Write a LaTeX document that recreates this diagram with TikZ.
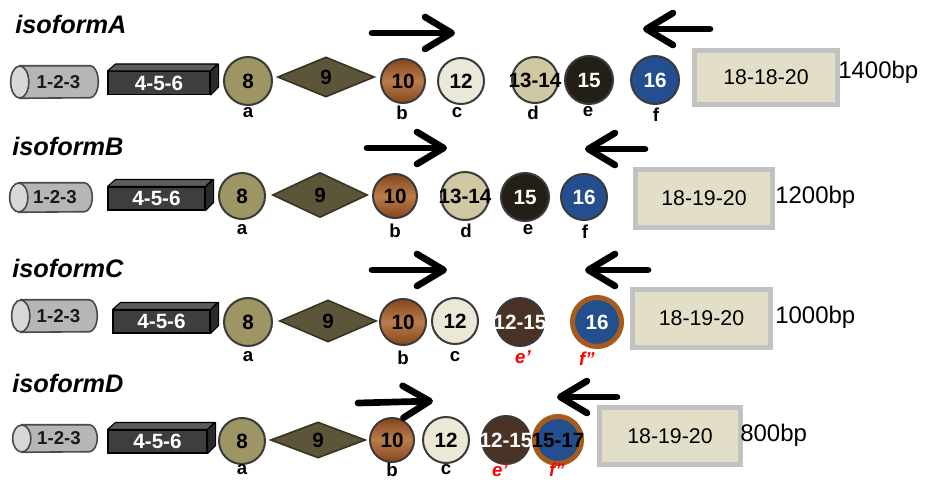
\documentclass[tikz,border=0pt]{standalone}
\usepackage{fontspec}
\setmainfont{Liberation Sans}
\usetikzlibrary{shapes.geometric,arrows.meta,calc}

\definecolor{exline}{HTML}{3A3A3A}
\definecolor{cylbody}{HTML}{B6B6B6}
\definecolor{cylend}{HTML}{D8D8D8}
\definecolor{cylline}{HTML}{4A4A4A}
\definecolor{boxfront}{HTML}{3E3E3E}
\definecolor{boxtop}{HTML}{5C5C5C}
\definecolor{boxside}{HTML}{2A2A2A}
\definecolor{olive}{HTML}{9D9563}
\definecolor{dnine}{HTML}{5C5539}
\definecolor{dline}{HTML}{38331F}
\definecolor{wdark}{HTML}{86461C}
\definecolor{wlight}{HTML}{B97C4A}
\definecolor{cream}{HTML}{ECE8D8}
\definecolor{tan}{HTML}{D0C7A3}
\definecolor{nearblack}{HTML}{231F17}
\definecolor{exblue}{HTML}{234F8E}
\definecolor{darkbrown}{HTML}{4A3325}
\definecolor{ring}{HTML}{A65A1C}
\definecolor{utrfill}{HTML}{E3DEC8}
\definecolor{utrline}{HTML}{C2C2C2}

\newcommand\numfont{\fontsize{15.5}{15.5}\selectfont\bfseries}
% straight prime marks for the shifted exon labels
\newcommand\pr{\symbol{"27}}
\newcommand\dpr{\symbol{"22}}

\begin{document}
\begin{tikzpicture}[x=0.75pt,y=-0.75pt,
  exon/.style={circle, inner sep=0pt, minimum size=#1*1.5pt, draw=exline,
    line width=1.5pt, font=\numfont},
  ringexon/.style={circle, inner sep=0pt, minimum size=#1*1.5pt, draw=ring,
    line width=3.8pt, fill=exblue, font=\numfont},
  wood/.style={exon=#1, top color=wdark, bottom color=wdark, middle color=wlight},
  gem/.style={diamond, inner sep=0pt, fill=dnine, draw=dline, line width=1.2pt,
    font=\numfont},
  cylframe/.style={rectangle, inner sep=0pt},
  cyltext/.style={inner sep=0pt, text=black!90,
    font=\fontsize{14}{14}\selectfont\bfseries},
  front/.style={rectangle, inner sep=0pt, fill=boxfront, draw=black, line width=0.8pt,
    text=white, font=\fontsize{15.5}{15.5}\selectfont\bfseries},
  facet/.style={draw=black, line width=0.8pt, line join=round},
  utr/.style={rectangle, inner sep=0pt, fill=utrfill, draw=utrline, line width=3.6pt,
    font=\fontsize{16}{16}\selectfont},
  size/.style={anchor=west, inner sep=0pt, font=\fontsize{18}{18}\selectfont},
  title/.style={anchor=base west, inner sep=0pt,
    font=\fontsize{19}{19}\selectfont\bfseries\itshape},
  lab/.style={inner sep=0pt, font=\fontsize{14}{14}\selectfont\bfseries},
  redlab/.style={inner sep=0pt, text=red, font=\fontsize{14}{14}\selectfont\bfseries\itshape},
  bigarrow/.style={line width=5pt, line cap=round,
    -{Straight Barb[length=20pt, width=24pt, round]}}
]
\useasboundingbox (0,0) rectangle (928,482);

% ---------- cylinder exon 1-2-3 (name, centre, width, height) ----------
\newcommand\exoncyl[4]{%
  \node[cylframe, minimum width=#3*0.75pt, minimum height=#4*0.75pt] (#1) at #2 {};
  \draw[cylline, line width=1.2pt, fill=cylbody]
    ($(#1.north west)+(9,0)$) -- ($(#1.north east)+(-8,0)$)
    arc[start angle=90, end angle=-90, x radius=6pt, y radius=#4*0.375pt]
    -- ($(#1.south west)+(9,0)$) -- cycle;
  \draw[cylline, line width=1.2pt, fill=cylend] ($(#1.west)+(9,0)$)
    ellipse[x radius=6.8pt, y radius=#4*0.375pt];
  \node[cyltext] (#1t) at ($(#1.center)+(4,0)$) {1-2-3};
}
% ---------- block exon 4-5-6 (name, centre, width) ----------
\newcommand\exonblock[3]{%
  \node[front, minimum width=#3*0.75pt, minimum height=23*0.75pt] (#1) at #2 {4-5-6};
  \filldraw[facet, fill=boxtop] (#1.north west) -- ++(8,-7) -- ++(#3,0)
    -- (#1.north east) -- cycle;
  \filldraw[facet, fill=boxside] (#1.north east) -- ++(8,-7) -- ++(0,23)
    -- (#1.south east) -- cycle;
}

% ======================= isoform A =======================
\node[title] (tA) at (15,33) {isoformA};
\exoncyl{cylA}{(54.5,82)}{87}{32}
\exonblock{bA}{(159,83)}{102}
\node[exon=24, fill=olive] (e8A) at (248,81) {8};
\node[gem, minimum width=97*0.75pt, minimum height=40*0.75pt] (e9A) at (326,77) {9};
\node[wood=22] (e10A) at (403,81) {10};
\node[exon=23, fill=cream] (e12A) at (461,81) {12};
\node[exon=23, fill=tan] (e13A) at (535,80) {\makebox[0pt]{13-14}};
\node[exon=24, fill=nearblack, text=white] (e15A) at (589,80) {15};
\node[exon=24, fill=exblue, text=white] (e16A) at (655,80) {16};
\node[utr, minimum width=143*0.75pt, minimum height=54*0.75pt] (uA) at (766,77.5) {18-18-20};
\node[size] (sA) at (838,72) {1400bp};
\node[lab] (laA) at (248,113) {a};
\node[lab] (lbA) at (402,113) {b};
\node[lab] (lcA) at (457,113) {c};
\node[lab] (ldA) at (533,113) {d};
\node[lab] (leA) at (588,112) {e};
\node[lab] (lfA) at (656,115) {f};
\coordinate (rA1) at (372,33); \coordinate (rA2) at (455,33);
\coordinate (lA1) at (710,29); \coordinate (lA2) at (643,29);
\draw[bigarrow] (rA1) -- (rA2);
\draw[bigarrow] (lA1) -- (lA2);

% ======================= isoform B =======================
\node[title] (tB) at (12,155) {isoformB};
\exoncyl{cylB}{(51,197.5)}{82}{29}
\exonblock{bB}{(156.5,198.5)}{97}
\node[exon=23, fill=olive] (e8B) at (242,196) {8};
\node[gem, minimum width=95*0.75pt, minimum height=45*0.75pt] (e9B) at (320,195) {9};
\node[wood=22] (e10B) at (395,196) {10};
\node[exon=24, fill=tan] (e13B) at (465,196) {\makebox[0pt]{13-14}};
\node[exon=24, fill=nearblack, text=white] (e15B) at (525,197) {15};
\node[exon=23, fill=exblue, text=white] (e16B) at (584,197) {16};
\node[utr, minimum width=137*0.75pt, minimum height=58*0.75pt] (uB) at (704,198.5) {18-19-20};
\node[size] (sB) at (775,197) {1200bp};
\node[lab] (laB) at (242,230) {a};
\node[lab] (lbB) at (395,231) {b};
\node[lab] (ldB) at (466,231) {d};
\node[lab] (leB) at (528,230) {e};
\node[lab] (lfB) at (585,232) {f};
\coordinate (rB1) at (367,148); \coordinate (rB2) at (447,148);
\coordinate (lB1) at (645,149); \coordinate (lB2) at (585,149);
\draw[bigarrow] (rB1) -- (rB2);
\draw[bigarrow] (lB1) -- (lB2);

% ======================= isoform C =======================
\node[title] (tC) at (12,277) {isoformC};
\exoncyl{cylC}{(54.5,316)}{85}{32}
\exonblock{bC}{(161.5,321.5)}{97}
\node[exon=24, fill=olive] (e8C) at (248,322) {8};
\node[gem, minimum width=97*0.75pt, minimum height=42*0.75pt] (e9C) at (328,321) {9};
\node[wood=23] (e10C) at (403,322) {10};
\node[exon=23, fill=cream] (e12C) at (455,321) {12};
\node[exon=24, fill=darkbrown, text=white] (e1215C) at (520,322) {\makebox[0pt]{12-15}};
\node[ringexon=24.5, text=white] (e16C) at (597,322) {16};
\node[utr, minimum width=138*0.75pt, minimum height=58*0.75pt] (uC) at (701.5,318.5) {18-19-20};
\node[size] (sC) at (775,317) {1000bp};
\node[lab] (laC) at (248,357) {a};
\node[lab] (lbC) at (403,358) {b};
\node[lab] (lcC) at (455,357) {c};
\node[redlab] (leC) at (523,357) {e\pr};
\node[redlab] (lfC) at (587,359) {f\dpr};
\coordinate (rC1) at (372,270); \coordinate (rC2) at (447,270);
\coordinate (lC1) at (648,270); \coordinate (lC2) at (585,270);
\draw[bigarrow] (rC1) -- (rC2);
\draw[bigarrow] (lC1) -- (lC2);

% ======================= isoform D =======================
\node[title] (tD) at (12,392) {isoformD};
\exoncyl{cylD}{(55,438.5)}{84}{27}
\exonblock{bD}{(157.5,441.5)}{99}
\node[exon=23, fill=olive] (e8D) at (242,441) {8};
\node[gem, minimum width=95*0.75pt, minimum height=36*0.75pt] (e9D) at (318,440) {9};
\node[wood=22] (e10D) at (392,440) {10};
\node[exon=23, fill=cream] (e12D) at (446,440) {12};
\node[exon=24, fill=darkbrown, text=white] (e1215D) at (506,440) {\makebox[0pt]{12-15}};
\node[ringexon=23.5, text=black] (e1517D) at (558,440) {\makebox[0pt]{15-17}};
\node[utr, minimum width=141*0.75pt, minimum height=57*0.75pt] (uD) at (670,436) {18-19-20};
\node[size] (sD) at (740,435) {800bp};
\node[lab] (laD) at (242,470) {a};
\node[lab] (lbD) at (392,470) {b};
\node[lab] (lcD) at (446,470) {c};
\node[redlab] (leD) at (500,470) {e\pr};
\node[redlab] (lfD) at (557,470) {f\dpr};
\coordinate (rD1) at (358,403); \coordinate (rD2) at (433,401);
\coordinate (lD1) at (617,397); \coordinate (lD2) at (557,397);
\draw[bigarrow] (rD1) -- (rD2);
\draw[bigarrow] (lD1) -- (lD2);
\end{tikzpicture}
\end{document}
